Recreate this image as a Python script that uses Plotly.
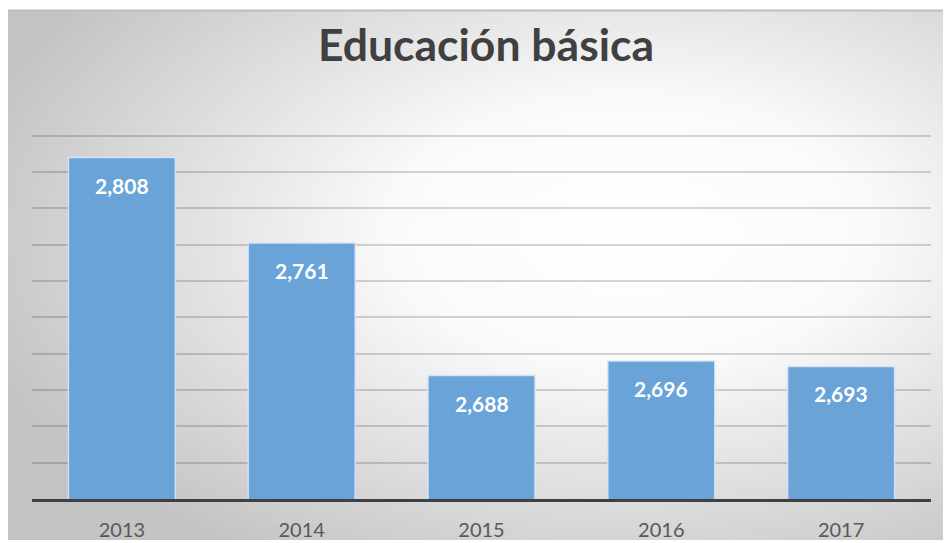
import base64
import plotly.graph_objects as go

years = ["2013", "2014", "2015", "2016", "2017"]
values = [2808, 2761, 2688, 2696, 2693]
title_text = "Educación básica"
y_min, y_max, y_step = 2620, 2820, 20

# page body has an 8px margin, so the figure is 8px smaller than the window
W, H = 943, 535
BG_TOP, BG_BOTTOM = 2, 532

svg = """<svg xmlns='http://www.w3.org/2000/svg' width='943' height='530' viewBox='0 0 943 530' preserveAspectRatio='none'>
<defs><radialGradient id='g' cx='0.66' cy='0.42' r='0.72' fx='0.66' fy='0.42'>
<stop offset='0' stop-color='#ffffff'/>
<stop offset='0.35' stop-color='#fafafa'/>
<stop offset='1' stop-color='#c4c4c4'/>
</radialGradient></defs>
<rect x='0' y='0' width='943' height='530' fill='url(#g)'/>
</svg>"""
src = "data:image/svg+xml;base64," + base64.b64encode(svg.encode()).decode()

fig = go.Figure()
fig.add_trace(go.Bar(
    x=years, y=values,
    marker=dict(color="#6aa3d7", line=dict(color="rgba(215,230,245,0.9)", width=1.5)),
    hoverinfo="skip",
))

annotations = []
for i, v in enumerate(values):
    annotations.append(dict(
        x=i, y=v, xref="x", yref="y", yanchor="top", yshift=-13,
        text=f"{v:,}", showarrow=False,
        font=dict(family="Lato", size=21, color="white", weight="bold"),
    ))

margin_l, margin_r, margin_t, margin_b = 24, 20, 126, 44
pw = W - margin_l - margin_r
ph = H - margin_t - margin_b

def px_x(px):
    return (px - margin_l) / pw

def px_y(py):
    return 1 - (py - margin_t) / ph

fig.update_layout(
    width=W, height=H,
    paper_bgcolor="white",
    plot_bgcolor="rgba(0,0,0,0)",
    margin=dict(l=margin_l, r=margin_r, t=margin_t, b=margin_b, autoexpand=False),
    bargap=0.405,
    showlegend=False,
    title=dict(text=title_text, x=478 / W, xanchor="center", y=1 - 37 / H, yanchor="middle",
               xref="container", yref="container", automargin=False,
               font=dict(family="Lato", size=44.5, color="#404040", weight="bold")),
    images=[dict(source=src, xref="paper", yref="paper",
                 x=px_x(0), y=px_y(BG_TOP),
                 sizex=W / pw, sizey=(BG_BOTTOM - BG_TOP) / ph,
                 xanchor="left", yanchor="top", sizing="stretch", layer="below")],
    shapes=[
        dict(type="line", xref="paper", yref="paper",
             x0=px_x(0), x1=px_x(W),
             y0=px_y(BG_TOP + 0.5), y1=px_y(BG_TOP + 0.5),
             line=dict(color="#bdbdbd", width=2), layer="below"),
    ],
    annotations=annotations,
    xaxis=dict(type="category", range=[-0.5, len(years) - 0.5],
               showgrid=False, showline=True, linecolor="#404040", linewidth=3,
               ticks="", tickfont=dict(family="Lato", size=20, color="#595959"),
               ticklabelstandoff=11, automargin=False),
    yaxis=dict(range=[y_min, y_max + 1], tick0=y_min, dtick=y_step, showticklabels=False,
               showgrid=True, gridcolor="rgba(0,0,0,0.16)", gridwidth=1.5,
               zeroline=False, showline=False, ticks="", automargin=False),
)

fig.write_html("out.html")
